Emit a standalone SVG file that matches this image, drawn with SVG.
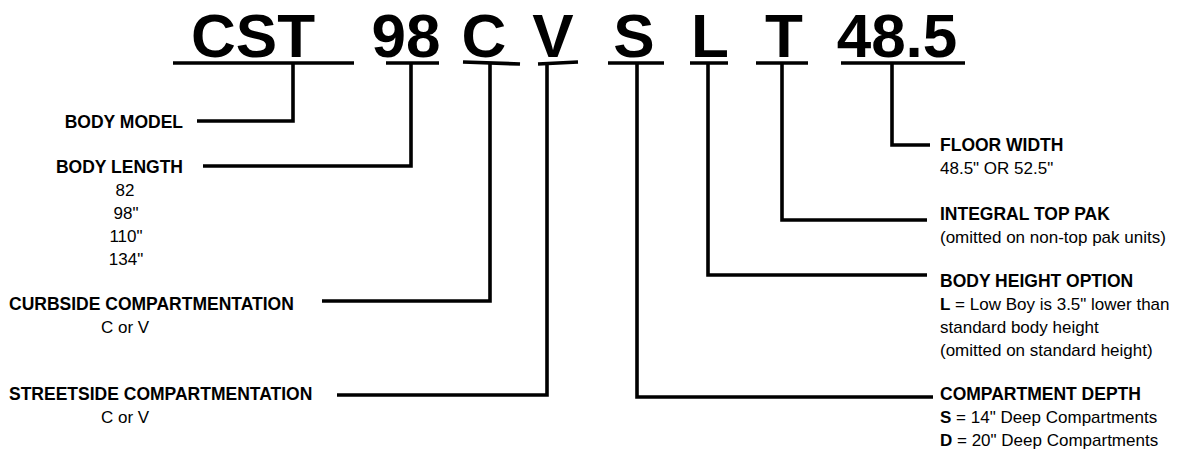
<svg xmlns="http://www.w3.org/2000/svg" width="1180" height="452" viewBox="0 0 1180 452">
<style>
.code{font-family:"Liberation Sans",Arial,sans-serif;font-weight:bold;font-size:62px;fill:#000;text-anchor:middle}
.lb{font-family:"Liberation Sans",Arial,sans-serif;font-weight:bold;font-size:17.5px;fill:#000}
.tx{font-family:"Liberation Sans",Arial,sans-serif;font-size:17px;fill:#000}
.ln{fill:none;stroke:#000;stroke-width:3.6;stroke-linejoin:miter;stroke-linecap:butt}
</style>
<rect width="1180" height="452" fill="#fff"/>
<g id="code">
<text class="code" x="253" y="57">CST</text>
<text class="code" x="406" y="57">98</text>
<text class="code" x="484" y="57">C</text>
<text class="code" x="553" y="57">V</text>
<text class="code" x="634" y="57">S</text>
<text class="code" x="710" y="57">L</text>
<text class="code" x="784" y="57">T</text>
<text class="code" x="897" y="57">48.5</text>
</g>
<g id="underlines" class="ln">
<path d="M173 63H354"/>
<path d="M386 63H439"/>
<path d="M463 62L520 64"/>
<path d="M538 64L578 62"/>
<path d="M608 63H664"/>
<path d="M690 63H728"/>
<path d="M756 63H808"/>
<path d="M841 63H965"/>
</g>
<g id="connectors" class="ln">
<path d="M197 121H293V63"/>
<path d="M203 166H411V63"/>
<path d="M322 301H490V63"/>
<path d="M337 395H547V63"/>
<path d="M892 63V145H930"/>
<path d="M782 63V220H927"/>
<path d="M708 63V275H927"/>
<path d="M637 63V397H933"/>
</g>
<g id="body-model">
<text class="lb" x="183" y="128" text-anchor="end">BODY MODEL</text>
</g>
<g id="body-length">
<text class="lb" x="183" y="173" text-anchor="end">BODY LENGTH</text>
<text class="tx" x="125" y="196" text-anchor="middle">82</text>
<text class="tx" x="126" y="219" text-anchor="middle">98"</text>
<text class="tx" x="126" y="242" text-anchor="middle">110"</text>
<text class="tx" x="126" y="265" text-anchor="middle">134"</text>
</g>
<g id="curbside">
<text class="lb" x="9" y="310">CURBSIDE COMPARTMENTATION</text>
<text class="tx" x="101" y="333">C or V</text>
</g>
<g id="streetside">
<text class="lb" x="9" y="400">STREETSIDE COMPARTMENTATION</text>
<text class="tx" x="101" y="423">C or V</text>
</g>
<g id="floor-width">
<text class="lb" x="940" y="151">FLOOR WIDTH</text>
<text class="tx" x="940" y="174">48.5" OR 52.5"</text>
</g>
<g id="top-pak">
<text class="lb" x="940" y="220">INTEGRAL TOP PAK</text>
<text class="tx" x="940" y="243">(omitted on non-top pak units)</text>
</g>
<g id="body-height">
<text class="lb" x="940" y="287">BODY HEIGHT OPTION</text>
<text class="tx" x="940" y="310"><tspan font-weight="bold">L</tspan> = Low Boy is 3.5" lower than</text>
<text class="tx" x="940" y="333">standard body height</text>
<text class="tx" x="940" y="356">(omitted on standard height)</text>
</g>
<g id="compartment-depth">
<text class="lb" x="940" y="400">COMPARTMENT DEPTH</text>
<text class="tx" x="940" y="423"><tspan font-weight="bold">S</tspan> = 14" Deep Compartments</text>
<text class="tx" x="940" y="446"><tspan font-weight="bold">D</tspan> = 20" Deep Compartments</text>
</g>
</svg>
